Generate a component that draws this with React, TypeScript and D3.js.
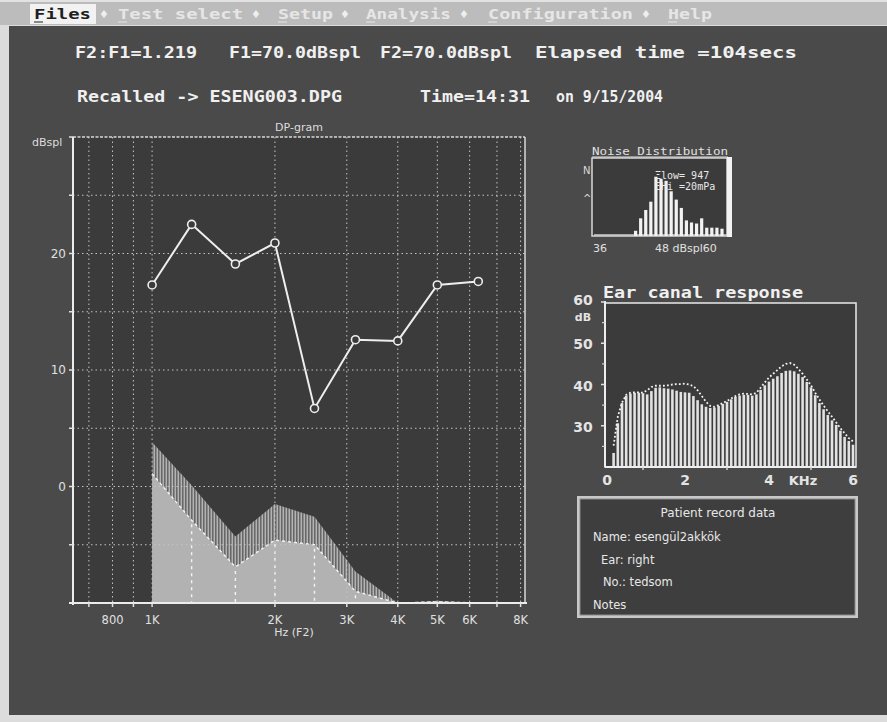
import React from "react";
import * as d3 from "d3";

// ---------- DATA ----------
const menuItems = ["Files", "Test select", "Setup", "Analysis", "Configuration", "Help"];
const headerLine1 = ["F2:F1=1.219", "F1=70.0dBspl", "F2=70.0dBspl", "Elapsed time =104secs"];
const headerLine2 = ["Recalled -> ESENG003.DPG", "Time=14:31", "on 9/15/2004"];

// DP-gram (F2 frequency in Hz, level in dB SPL)
const dpFreqs = [1000, 1250, 1600, 2000, 2500, 3150, 4000, 5000, 6300];
const dpAmps = [17.3, 22.5, 19.1, 20.9, 6.7, 12.6, 12.5, 17.3, 17.6];
const noiseUpper = [3.8, 0.1, -4.3, -1.5, -2.6, -7.3, -10, -9.8, -10];
const noiseMean = [1.1, -2.9, -6.9, -4.6, -5.0, -9.0, -10, -9.9, -10];
const dpGridFreqs = [700, 800, 900, 1000, 2000, 3000, 4000, 5000, 6000, 7000, 8000];
const dpTickFreqs = [800, 1000, 2000, 3000, 4000, 5000, 6000, 8000];
const dpTickLabels = ["800", "1K", "2K", "3K", "4K", "5K", "6K", "8K"];
const dpGridLevels = [-5, 0, 5, 10, 15, 20, 25];
const dpLabelLevels = [0, 10, 20];

// Noise distribution histogram (dB SPL bins, counts)
const histBins = [43, 44, 45, 46, 47, 48, 49, 50, 51, 52, 53, 54, 55, 56, 57, 58, 59, 60];
const histCounts = [5, 17, 25, 33, 57, 55, 53, 43, 35, 27, 15, 13, 12, 17, 8, 8, 8, 7];
const histTickValues = [36, 48];
const histTickLabels = ["36", "48 dBspl60"];

// Ear canal response (kHz, dB)
const ecFreqs = [
  0.3, 0.4, 0.5, 0.6, 0.7, 0.8, 0.9, 1.0, 1.1, 1.2, 1.3, 1.4, 1.5, 1.6, 1.7, 1.8, 1.9, 2.0,
  2.1, 2.2, 2.3, 2.4, 2.5, 2.6, 2.7, 2.8, 2.9, 3.0, 3.1, 3.2, 3.3, 3.4, 3.5, 3.6, 3.7, 3.8,
  3.9, 4.0, 4.1, 4.2, 4.3, 4.4, 4.5, 4.6, 4.7, 4.8, 4.9, 5.0, 5.1, 5.2, 5.3, 5.4, 5.5, 5.6,
  5.7, 5.8, 5.9, 6.0,
];
const ecBars = [
  23.4, 30.6, 35.5, 37.3, 37.8, 38.0, 38.0, 37.9, 37.6, 38.4, 39.2, 39.3, 39.1, 39.0, 38.8, 38.5, 38.2, 38.1,
  38.0, 37.2, 36.2, 35.2, 34.6, 34.3, 34.4, 34.8, 35.3, 35.8, 36.4, 37.0, 37.3, 37.5, 37.5, 37.3, 37.6, 38.7,
  39.8, 40.7, 41.4, 42.0, 42.8, 43.3, 43.4, 43.2, 42.6, 41.8, 40.6, 39.3, 37.4, 35.5, 34.0, 32.6, 31.3, 30.2,
  28.8, 27.3, 26.3, 25.4,
];
const ecUpper = [
  25.2, 32.2, 35.6, 37.5, 38.0, 38.1, 38.1, 38.0, 38.6, 39.4, 39.7, 39.7, 39.7, 39.8, 40.0, 40.1, 40.1, 40.2,
  40.0, 39.6, 38.6, 37.2, 35.8, 34.8, 34.6, 35.0, 35.5, 36.0, 36.6, 37.2, 37.6, 37.8, 37.7, 37.6, 38.0, 39.2,
  40.5, 41.7, 42.6, 43.5, 44.4, 45.0, 45.2, 44.8, 43.8, 42.6, 41.2, 39.8, 38.0, 36.4, 34.9, 33.5, 32.2, 30.8,
  29.4, 28.2, 27.0, 26.2,
];
const ecYLabels = [30, 40, 50, 60];
const ecYMinor = [25, 35, 45, 55];
const ecXLabels = [0, 2, 4, 6];
const ecXMinor = [1, 3, 5];

const patientLines = [
  { label: "Name: esengül2akkök", indent: 0 },
  { label: "Ear: right", indent: 8 },
  { label: "No.: tedsom", indent: 10 },
  { label: "Notes", indent: 0 },
];

// ---------- COMPONENT ----------
export default function App() {
  const W = 887, H = 722;
  const dark = "#4a4a4a";
  const plotBg = "#3b3b3b";

  // DP-gram scales
  const dpL = 73, dpR = 525, dpT = 137, dpB = 603;
  const x = d3.scaleLog().domain([640, 8200]).range([dpL, dpR]);
  const y = d3.scaleLinear().domain([-10, 30]).range([dpB, dpT]);

  const dpLine = d3.line<number>().x((_, i) => x(dpFreqs[i])).y((d) => y(d));
  const upperArea = d3
    .area<number>()
    .x((_, i) => x(dpFreqs[i]))
    .y0(y(-10))
    .y1((d) => y(d));
  const meanLine = d3.line<number>().x((_, i) => x(dpFreqs[i])).y((d) => y(d));

  // Noise histogram scales
  const hL = 592, hR = 727, hT = 158, hB = 236;
  const hx = d3.scaleLinear().domain([36, 60]).range([600, 722]);
  const hy = d3.scaleLinear().domain([0, 75]).range([hB, hT]);

  // Ear canal scales
  const eL = 605, eR = 856, eT = 303, eB = 467;
  const ex = d3.scaleLinear().domain([0, 6]).range([601, 853]);
  const ey = d3.scaleLinear().domain([20, 60]).range([eB, 302]);
  const ecLine = d3.line<number>().x((_, i) => ex(ecFreqs[i])).y((d) => ey(d));

  const mono = "'DejaVu Sans Mono', monospace";
  const sans = "'DejaVu Sans', sans-serif";

  // header chunk positions
  const h1x = [[75, 197], [229, 361], [380, 512], [535, 797]];
  const h2x = [[77, 342], [420, 530], [556, 663]];

  // menu positions
  const menuX = [[34, 91], [118, 243], [278, 333], [366, 451], [488, 633], [668, 712]];
  const diamondX = [104, 256, 345, 464, 646];

  return (
    <svg width={W} height={H} style={{ position: "absolute", left: 0, top: 0 }}>
      <defs>
        <pattern id="hatch" width="3" height="4" patternUnits="userSpaceOnUse">
          <rect width="3" height="4" fill="#5e5e5e" />
          <rect x="0.5" width="1.6" height="4" fill="#b3b3b3" />
        </pattern>
        <clipPath id="histClip">
          <rect x={hL} y={hT} width={hR - hL} height={hB - hT} />
        </clipPath>
      </defs>

      {/* frame & background */}
      <rect x={0} y={0} width={W} height={H} fill="#dcdcdc" />
      <rect x={0} y={0} width={W} height={25} fill="#bcbcbc" />
      <rect x={0} y={0} width={W} height={2} fill="#e2e2e2" />
      <rect x={9} y={26} width={W - 9} height={689} fill={dark} />

      {/* menu */}
      <rect x={30} y={4} width={66} height={20} fill="#f2f2f2" />
      {menuItems.map((m, i) => (
        <g key={m}>
          <text
            x={menuX[i][0]}
            y={14}
            dominantBaseline="central"
            fontFamily={mono}
            fontWeight="bold"
            fontSize={14}
            textLength={menuX[i][1] - menuX[i][0]}
            lengthAdjust="spacingAndGlyphs"
            fill={i === 0 ? "#1e1e1e" : "#e6e6e6"}
          >
            {m}
          </text>
          <line
            x1={menuX[i][0]}
            x2={menuX[i][0] + 9}
            y1={22}
            y2={22}
            stroke={i === 0 ? "#1e1e1e" : "#e6e6e6"}
            strokeWidth={1}
          />
        </g>
      ))}
      {diamondX.map((dx) => (
        <text key={dx} x={dx} y={14} dominantBaseline="central" textAnchor="middle" fontSize={11} fill="#efefef" fontFamily={sans}>
          ♦
        </text>
      ))}

      {/* header text */}
      {headerLine1.map((t, i) => (
        <text
          key={t}
          x={h1x[i][0]}
          y={53}
          dominantBaseline="central"
          fontFamily={mono}
          fontWeight="bold"
          fontSize={15}
          textLength={h1x[i][1] - h1x[i][0]}
          lengthAdjust="spacingAndGlyphs"
          fill="#f0f0f0"
        >
          {t}
        </text>
      ))}
      {headerLine2.map((t, i) => (
        <text
          key={t}
          x={h2x[i][0]}
          y={97}
          dominantBaseline="central"
          fontFamily={mono}
          fontWeight="bold"
          fontSize={15}
          textLength={h2x[i][1] - h2x[i][0]}
          lengthAdjust="spacingAndGlyphs"
          fill="#f0f0f0"
        >
          {t}
        </text>
      ))}

      {/* ---------- DP-gram ---------- */}
      <rect x={dpL} y={dpT} width={dpR - dpL} height={dpB - dpT} fill={plotBg} />
      <text x={(dpL + dpR) / 2} y={127} textAnchor="middle" dominantBaseline="central" fontFamily={sans} fontSize={11} fill="#dddddd">
        DP-gram
      </text>
      <text x={32} y={142} dominantBaseline="central" fontFamily={sans} fontSize={11} fill="#dddddd">
        dBspl
      </text>

      {/* noise band (hatched) */}
      <path d={upperArea(noiseUpper) || ""} fill="url(#hatch)" />
      {/* noise mean (solid fill) */}
      <path d={upperArea(noiseMean) || ""} fill="#b2b2b2" />
      {dpFreqs.slice(1, 6).map((f, i) => (
        <line
          key={f}
          x1={x(f)}
          x2={x(f)}
          y1={y(noiseMean[i + 1]) + 4}
          y2={dpB}
          stroke="#f4f4f4"
          strokeWidth={1.4}
          strokeDasharray="3,4"
        />
      ))}
      <path d={meanLine(noiseMean) || ""} fill="none" stroke="#f4f4f4" strokeWidth={1.4} strokeDasharray="3,3" />

      {/* grid */}
      {dpGridFreqs.map((f) => (
        <line key={"gx" + f} x1={x(f)} x2={x(f)} y1={dpT} y2={dpB} stroke="#c4c4c4" strokeWidth={1} strokeDasharray="1.5,3" />
      ))}
      {dpGridLevels.map((v) => (
        <line key={"gy" + v} x1={dpL} x2={dpR} y1={y(v)} y2={y(v)} stroke="#c4c4c4" strokeWidth={1} strokeDasharray="1.5,3" />
      ))}

      {/* frame */}
      <line x1={dpL} x2={dpR} y1={dpT} y2={dpT} stroke="#d8d8d8" strokeWidth={1.5} strokeDasharray="3,1.5" />
      <line x1={dpR} x2={dpR} y1={dpT} y2={dpB} stroke="#d8d8d8" strokeWidth={1.5} />
      <line x1={dpL} x2={dpL} y1={dpT} y2={dpB + 2} stroke="#ececec" strokeWidth={2} />
      <line x1={dpL - 4} x2={dpR + 2} y1={dpB} y2={dpB} stroke="#ececec" strokeWidth={2} />

      {/* y ticks */}
      {dpGridLevels.concat([30]).map((v) => (
        <line key={"ty" + v} x1={dpL - 4} x2={dpL} y1={y(v)} y2={y(v)} stroke="#e0e0e0" strokeWidth={1.5} />
      ))}
      {dpLabelLevels.map((v) => (
        <text key={"ly" + v} x={66} y={y(v)} textAnchor="end" dominantBaseline="central" fontFamily={sans} fontSize={12} fill="#e0e0e0">
          {v}
        </text>
      ))}

      {/* x ticks */}
      {dpGridFreqs.map((f) => (
        <line key={"tx" + f} x1={x(f)} x2={x(f)} y1={dpB} y2={dpB + 4} stroke="#e0e0e0" strokeWidth={1.5} />
      ))}
      {dpTickFreqs.map((f, i) => (
        <text key={"lx" + f} x={x(f)} y={620} textAnchor="middle" dominantBaseline="central" fontFamily={sans} fontSize={11.5} fill="#e0e0e0">
          {dpTickLabels[i]}
        </text>
      ))}
      <text x={294} y={632} textAnchor="middle" dominantBaseline="central" fontFamily={sans} fontSize={11} fill="#e0e0e0">
        Hz (F2)
      </text>

      {/* DP amplitude */}
      <path d={dpLine(dpAmps) || ""} fill="none" stroke="#eeeeee" strokeWidth={2} />
      {dpAmps.map((v, i) => (
        <circle key={"p" + i} cx={x(dpFreqs[i])} cy={y(v)} r={4} fill={plotBg} stroke="#eeeeee" strokeWidth={1.6} />
      ))}

      {/* ---------- Noise distribution ---------- */}
      <text x={592} y={151} dominantBaseline="central" fontFamily={mono} fontSize={10.5} textLength={136} lengthAdjust="spacingAndGlyphs" fill="#e0e0e0">
        Noise Distribution
      </text>
      <line x1={592} x2={728} y1={157} y2={157} stroke="#e0e0e0" strokeWidth={1} />
      <rect x={hL} y={hT} width={hR - hL} height={hB - hT} fill={plotBg} stroke="#d8d8d8" strokeWidth={1.5} />
      <rect x={hR} y={hT - 1} width={5} height={hB - hT + 2} fill="#f2f2f2" />
      <line x1={594} x2={hR} y1={hB - 1} y2={hB - 1} stroke="#cfcfcf" strokeWidth={1.5} />
      {histBins.map((b, i) => (
        <rect key={"hb" + b} x={hx(b) - 1.6} y={hy(histCounts[i])} width={3.2} height={hB - hy(histCounts[i])} fill="#f2f2f2" />
      ))}
      <g clipPath="url(#histClip)">
        <text x={655} y={175} dominantBaseline="central" fontFamily={mono} fontSize={10} fill="#e8e8e8">
          Ξlow= 947
        </text>
        <text x={655} y={186} dominantBaseline="central" fontFamily={mono} fontSize={10} fill="#e8e8e8">
          ΞHi =20mPa
        </text>
      </g>
      <text x={583} y={170} dominantBaseline="central" fontFamily={sans} fontSize={10} fill="#dcdcdc">
        N
      </text>
      <text x={583} y={198} dominantBaseline="central" fontFamily={sans} fontSize={10} fill="#dcdcdc">
        ^
      </text>
      {histTickValues.map((v, i) => (
        <text key={"ht" + v} x={hx(v) - (i === 0 ? 0 : 6)} y={248} textAnchor={i === 0 ? "middle" : "start"} dominantBaseline="central" fontFamily={sans} fontSize={11} fill="#e0e0e0">
          {histTickLabels[i]}
        </text>
      ))}

      {/* ---------- Ear canal response ---------- */}
      <text x={603} y={293} dominantBaseline="central" fontFamily={mono} fontWeight="bold" fontSize={15} textLength={200} lengthAdjust="spacingAndGlyphs" fill="#f0f0f0">
        Ear canal response
      </text>
      <rect x={eL} y={eT} width={eR - eL} height={eB - eT} fill={plotBg} stroke="#e0e0e0" strokeWidth={1.6} />
      {ecFreqs.map((f, i) => (
        <rect key={"eb" + i} x={ex(f) - 1.3} y={ey(ecBars[i])} width={2.6} height={eB - ey(ecBars[i])} fill="#e2e2e2" />
      ))}
      <path d={ecLine(ecUpper) || ""} fill="none" stroke="#f4f4f4" strokeWidth={1.8} strokeDasharray="1.8,2.2" />
      <line x1={eL} x2={eL} y1={eT - 2} y2={eB} stroke="#eeeeee" strokeWidth={2} />
      <line x1={eL} x2={eR} y1={eB} y2={eB} stroke="#eeeeee" strokeWidth={2} />
      {ecYLabels.map((v) => (
        <g key={"ey" + v}>
          <line x1={eL - 4} x2={eL} y1={ey(v)} y2={ey(v)} stroke="#e0e0e0" strokeWidth={1.5} />
          <text x={583} y={ey(v) + (v === 60 ? -2 : 1)} textAnchor="middle" dominantBaseline="central" fontFamily={sans} fontWeight="bold" fontSize={14} fill="#e4e4e4">
            {v}
          </text>
        </g>
      ))}
      {ecYMinor.map((v) => (
        <line key={"em" + v} x1={eL - 3} x2={eL} y1={ey(v)} y2={ey(v)} stroke="#d0d0d0" strokeWidth={1.2} />
      ))}
      <text x={583} y={317} textAnchor="middle" dominantBaseline="central" fontFamily={sans} fontWeight="bold" fontSize={11} fill="#e4e4e4">
        dB
      </text>
      {ecXLabels.map((v) => (
        <text key={"exl" + v} x={ex(v) + (v === 0 ? 6 : 0)} y={480} textAnchor="middle" dominantBaseline="central" fontFamily={sans} fontWeight="bold" fontSize={14} fill="#e4e4e4">
          {v}
        </text>
      ))}
      {ecXMinor.map((v) => (
        <line key={"exm" + v} x1={ex(v)} x2={ex(v)} y1={eB} y2={eB + 3} stroke="#d0d0d0" strokeWidth={1.5} />
      ))}
      <text x={803} y={480} textAnchor="middle" dominantBaseline="central" fontFamily={sans} fontWeight="bold" fontSize={13} fill="#e4e4e4">
        KHz
      </text>

      {/* ---------- Patient record ---------- */}
      <rect x={577} y={496} width={281} height={122} fill="#c8c8c8" />
      <rect x={580} y={499} width={275} height={116} fill="#3e3e3e" stroke="#8a8a8a" strokeWidth={1} />
      <text x={718} y={513} textAnchor="middle" dominantBaseline="central" fontFamily={sans} fontSize={12} fill="#e8e8e8">
        Patient record data
      </text>
      {patientLines.map((p, i) => (
        <text key={p.label} x={593 + p.indent} y={537 + i * 22.7} dominantBaseline="central" fontFamily={sans} fontSize={11.5} fill="#e8e8e8">
          {p.label}
        </text>
      ))}
    </svg>
  );
}
